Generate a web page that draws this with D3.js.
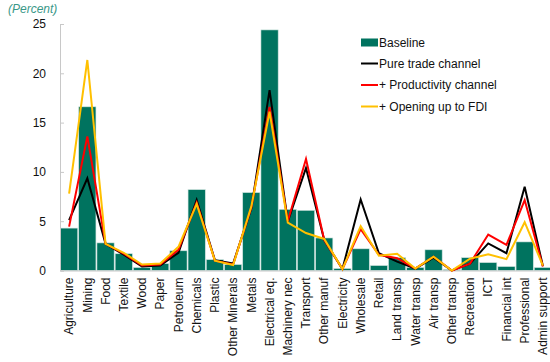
<!DOCTYPE html>
<html><head><meta charset="utf-8">
<script src="https://cdn.jsdelivr.net/npm/d3@7"></script>
<style>body{margin:0;background:#fff}svg{display:block;font-family:"Liberation Sans",Arial,sans-serif}</style>
</head><body><svg id="c" width="550" height="362"></svg>
<script>
const categories = ["Agriculture","Mining","Food","Textile","Wood","Paper","Petroleum","Chemicals","Plastic","Other Minerals","Metals","Electrical eq.","Machinery nec","Transport","Other manuf","Electricity","Wholesale","Retail","Land transp","Water transp","Air transp","Other transp","Recreation","ICT","Financial int","Professional","Admin support"];
const baseline =     [4.3,16.6,2.8,1.7,0.3,0.7,2.0,8.2,1.1,0.6,7.9,24.4,6.2,6.1,3.3,0.2,2.2,0.5,1.3,0.3,2.1,0.1,1.3,0.8,0.4,2.9,0.3];
const pureTrade =    [5.1,9.35,2.7,1.6,0.4,0.5,1.8,7.15,1.05,0.7,6.3,18.3,4.95,10.4,3.1,0.15,7.2,1.75,0.9,0.2,1.3,0.0,0.7,2.75,1.75,8.5,0.45];
const productivity = [4.45,13.6,2.7,1.7,0.5,0.6,2.1,6.9,1.0,0.6,6.4,16.6,5.0,11.3,3.1,0.15,4.2,1.6,1.25,0.2,1.4,0.0,0.7,3.65,2.6,7.15,0.4];
const openingFDI =   [7.8,21.35,2.7,1.8,0.6,0.7,2.4,6.75,1.0,0.55,6.5,16.1,4.85,3.8,3.2,0.15,4.5,1.5,1.7,0.2,1.4,0.0,1.2,1.65,1.15,4.9,0.5];
const yTicks = [0,5,10,15,20,25];
const seriesNames = ["Baseline","Pure trade channel","+ Productivity channel","+ Opening up to FDI"];
const lineColors = ["#000000","#ff0000","#ffc000"];

const svg = d3.select("#c");
const x = d3.scaleBand().domain(categories).range([60, 552]).paddingInner(0).paddingOuter(0);
const y = d3.scaleLinear().domain([0,25]).range([270.5, 24]);

// bars
svg.append("g").selectAll("rect").data(categories).join("rect")
  .attr("x", d => x(d)+0.5)
  .attr("width", x.bandwidth()-1)
  .attr("y", (d,i) => y(baseline[i]))
  .attr("height", (d,i) => y(0)-y(baseline[i]))
  .attr("fill", "#00735f")
  .attr("stroke", "#cfe3de").attr("stroke-width", 0.6);

// y axis
const yAxis = svg.append("g").attr("transform","translate(60,0)")
  .call(d3.axisRight(y).tickValues(yTicks).tickSize(4).tickFormat(d3.format("d")));
yAxis.select(".domain").attr("stroke","#c8c8c8");
yAxis.selectAll(".tick line").attr("stroke","#c8c8c8");
yAxis.selectAll(".tick text").attr("x",-14).attr("text-anchor","end").attr("font-size",12).attr("fill","#111").attr("font-family","Liberation Sans, Arial, sans-serif");

// x axis
const xAxis = svg.append("g").attr("transform",`translate(0,${y(0)})`)
  .call(d3.axisBottom(x).tickSize(0));
xAxis.select(".domain").attr("stroke","#c8c8c8");
xAxis.selectAll(".tick text")
  .attr("transform","rotate(-90)")
  .attr("x",-7).attr("y",0).attr("dy","0.35em")
  .attr("text-anchor","end").attr("font-size",12).attr("fill","#111")
  .attr("font-family","Liberation Sans, Arial, sans-serif");

// lines
const line = d3.line().x((d,i) => x(categories[i]) + x.bandwidth()/2).y(d => y(d));
[pureTrade, productivity, openingFDI].forEach((s,k) => {
  svg.append("path").datum(s).attr("d", line).attr("fill","none")
    .attr("stroke", lineColors[k]).attr("stroke-width", 2).attr("stroke-linejoin","miter");
});

// title
svg.append("text").attr("x",8).attr("y",13).attr("font-size",12).attr("font-style","italic")
  .attr("fill","#3a9888").text("(Percent)");

// legend
const lg = svg.append("g");
const ly = [42.5, 63.5, 85, 106.5];
lg.append("rect").attr("x",361).attr("y",ly[0]-4).attr("width",17).attr("height",8).attr("fill","#00735f");
lineColors.forEach((c,k) => {
  lg.append("line").attr("x1",361).attr("x2",378).attr("y1",ly[k+1]).attr("y2",ly[k+1])
    .attr("stroke",c).attr("stroke-width",2);
});
seriesNames.forEach((n,k) => {
  lg.append("text").attr("x",379).attr("y",ly[k]).attr("dy","0.35em").attr("font-size",12).attr("fill","#111").text(n);
});
</script></body></html>
